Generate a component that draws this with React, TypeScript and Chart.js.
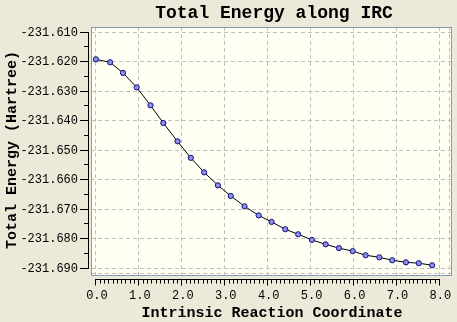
import React, { useEffect, useRef } from "react";
import Chart from "chart.js/auto";

const TITLE = "Total Energy along IRC";
const X_TITLE = "Intrinsic Reaction Coordinate";
const Y_TITLE = "Total Energy (Hartree)";

const xValues = [0.0, 0.33, 0.63, 0.95, 1.27, 1.57, 1.9, 2.21, 2.52, 2.84, 3.14, 3.46, 3.79, 4.09, 4.41, 4.71, 5.03, 5.35, 5.66, 5.98, 6.28, 6.6, 6.9, 7.22, 7.52, 7.83];
const energies = [-231.6192, -231.6202, -231.6238, -231.6287, -231.6348, -231.6408, -231.647, -231.6526, -231.6575, -231.6619, -231.6655, -231.669, -231.6721, -231.6743, -231.6768, -231.6785, -231.6804, -231.6819, -231.6832, -231.6842, -231.6856, -231.6863, -231.6873, -231.688, -231.6883, -231.689];

const xTicks = [0, 1, 2, 3, 4, 5, 6, 7, 8];
const xTickLabels = ["0.0", "1.0", "2.0", "3.0", "4.0", "5.0", "6.0", "7.0", "8.0"];
const yTicks = [-231.61, -231.62, -231.63, -231.64, -231.65, -231.66, -231.67, -231.68, -231.69];
const yTickLabels = ["-231.610", "-231.620", "-231.630", "-231.640", "-231.650", "-231.660", "-231.670", "-231.680", "-231.690"];

const MONO = "'Liberation Mono', 'DejaVu Sans Mono', monospace";

export default function App() {
  const ref = useRef<HTMLCanvasElement | null>(null);

  useEffect(() => {
    const canvas = ref.current;
    if (!canvas) return;

    const decor = {
      id: "decor",
      beforeDraw(chart: any) {
        const ctx = chart.ctx;
        const a = chart.chartArea;
        ctx.save();
        ctx.fillStyle = "#ECE9D8";
        ctx.fillRect(0, 0, chart.width, chart.height);
        ctx.fillStyle = "#FFFFF4";
        ctx.fillRect(a.left, a.top, a.right - a.left, a.bottom - a.top);
        ctx.restore();
      },
      beforeDatasetsDraw(chart: any) {
        const ctx = chart.ctx;
        const a = chart.chartArea;
        ctx.save();
        ctx.strokeStyle = "#C0C0C0";
        ctx.lineWidth = 1;
        ctx.setLineDash([4, 3]);
        ctx.beginPath();
        ctx.moveTo(a.right - 2.5, a.top);
        ctx.lineTo(a.right - 2.5, a.bottom);
        ctx.moveTo(a.left, a.bottom - 2.5);
        ctx.lineTo(a.right, a.bottom - 2.5);
        ctx.stroke();
        ctx.restore();
      },
      afterDraw(chart: any) {
        const ctx = chart.ctx;
        const a = chart.chartArea;
        const xs = chart.scales.x;
        const ys = chart.scales.y;
        ctx.save();
        // plot border
        ctx.strokeStyle = "#7F9DB9";
        ctx.lineWidth = 1;
        ctx.setLineDash([]);
        ctx.strokeRect(a.left + 0.5, a.top + 0.5, a.right - a.left - 1, a.bottom - a.top - 1);

        ctx.strokeStyle = "#000000";
        ctx.fillStyle = "#000000";

        // Y ruler
        const yTop = Math.floor(ys.getPixelForValue(yTicks[0]));
        const yBot = Math.floor(ys.getPixelForValue(yTicks[yTicks.length - 1]));
        const rx = 88.5;
        ctx.beginPath();
        ctx.moveTo(rx, yTop);
        ctx.lineTo(rx, yBot + 1);
        for (let i = 0; i < yTicks.length; i++) {
          const py = Math.floor(ys.getPixelForValue(yTicks[i])) + 0.5;
          ctx.moveTo(80, py);
          ctx.lineTo(rx, py);
          if (i < yTicks.length - 1) {
            const mv = (yTicks[i] + yTicks[i + 1]) / 2;
            const my = Math.floor(ys.getPixelForValue(mv)) + 0.5;
            ctx.moveTo(84, my);
            ctx.lineTo(rx, my);
          }
        }
        ctx.stroke();
        ctx.font = `12px ${MONO}`;
        ctx.textAlign = "right";
        ctx.textBaseline = "middle";
        for (let i = 0; i < yTicks.length; i++) {
          const py = Math.floor(ys.getPixelForValue(yTicks[i])) + 0.5;
          ctx.fillText(yTickLabels[i], 78, py);
        }

        // X ruler
        const x0 = Math.floor(xs.getPixelForValue(xTicks[0]));
        const x1 = Math.floor(xs.getPixelForValue(xTicks[xTicks.length - 1]));
        const ry = 279.5;
        ctx.beginPath();
        ctx.moveTo(x0, ry);
        ctx.lineTo(x1 + 1, ry);
        const first = xTicks[0];
        const last = xTicks[xTicks.length - 1];
        for (let k = 0; k <= (last - first) * 10; k++) {
          const v = first + k / 10;
          const px = Math.floor(xs.getPixelForValue(v)) + 0.5;
          const major = k % 10 === 0;
          ctx.moveTo(px, ry);
          ctx.lineTo(px, ry + (major ? 6 : 4));
        }
        ctx.stroke();
        ctx.textAlign = "center";
        ctx.textBaseline = "alphabetic";
        for (let i = 0; i < xTicks.length; i++) {
          const px = xs.getPixelForValue(xTicks[i]) + 1;
          ctx.fillText(xTickLabels[i], px, 298.5);
        }

        // titles
        ctx.font = `bold 18px ${MONO}`;
        ctx.textAlign = "center";
        ctx.textBaseline = "alphabetic";
        ctx.fillText(TITLE, 274, 18);

        ctx.font = `bold 15px ${MONO}`;
        ctx.fillText(X_TITLE, 272, 317);

        ctx.translate(16, 150);
        ctx.rotate(-Math.PI / 2);
        ctx.textAlign = "center";
        ctx.textBaseline = "alphabetic";
        ctx.fillText(Y_TITLE, 0, 0);
        ctx.restore();
      },
    };

    const chart = new Chart(canvas, {
      type: "scatter",
      data: {
        datasets: [
          {
            data: xValues.map((x, i) => ({ x, y: energies[i] })),
            showLine: true,
            borderColor: "#000000",
            borderWidth: 1,
            pointRadius: 2.6,
            pointBorderWidth: 1,
            pointBackgroundColor: "#8F8FEA",
            pointBorderColor: "#101080",
            tension: 0,
          },
        ],
      },
      options: {
        responsive: false,
        animation: false,
        events: [],
        layout: { padding: { left: 91, top: 27, right: 1, bottom: 46 } },
        plugins: { legend: { display: false }, tooltip: { enabled: false }, title: { display: false } },
        scales: {
          x: {
            type: "linear",
            min: -0.115,
            max: 8.293,
            afterBuildTicks: (s: any) => {
              s.ticks = xTicks.map((v) => ({ value: v }));
            },
            ticks: { display: false },
            grid: { color: "#C0C0C0", lineWidth: 1, drawTicks: false },
            border: { display: false, dash: [4, 3] },
          },
          y: {
            type: "linear",
            min: -231.69264,
            max: -231.60824,
            afterBuildTicks: (s: any) => {
              s.ticks = yTicks.map((v) => ({ value: v }));
            },
            ticks: { display: false },
            grid: { color: "#C0C0C0", lineWidth: 1, drawTicks: false },
            border: { display: false, dash: [4, 3] },
          },
        },
      },
      plugins: [decor],
    });

    return () => chart.destroy();
  }, []);

  return (
    <div style={{ position: "fixed", left: 0, top: 0, width: 457, height: 322, background: "#ECE9D8" }}>
      <canvas ref={ref} width={457} height={322} style={{ display: "block", width: 457, height: 322 }} />
    </div>
  );
}
